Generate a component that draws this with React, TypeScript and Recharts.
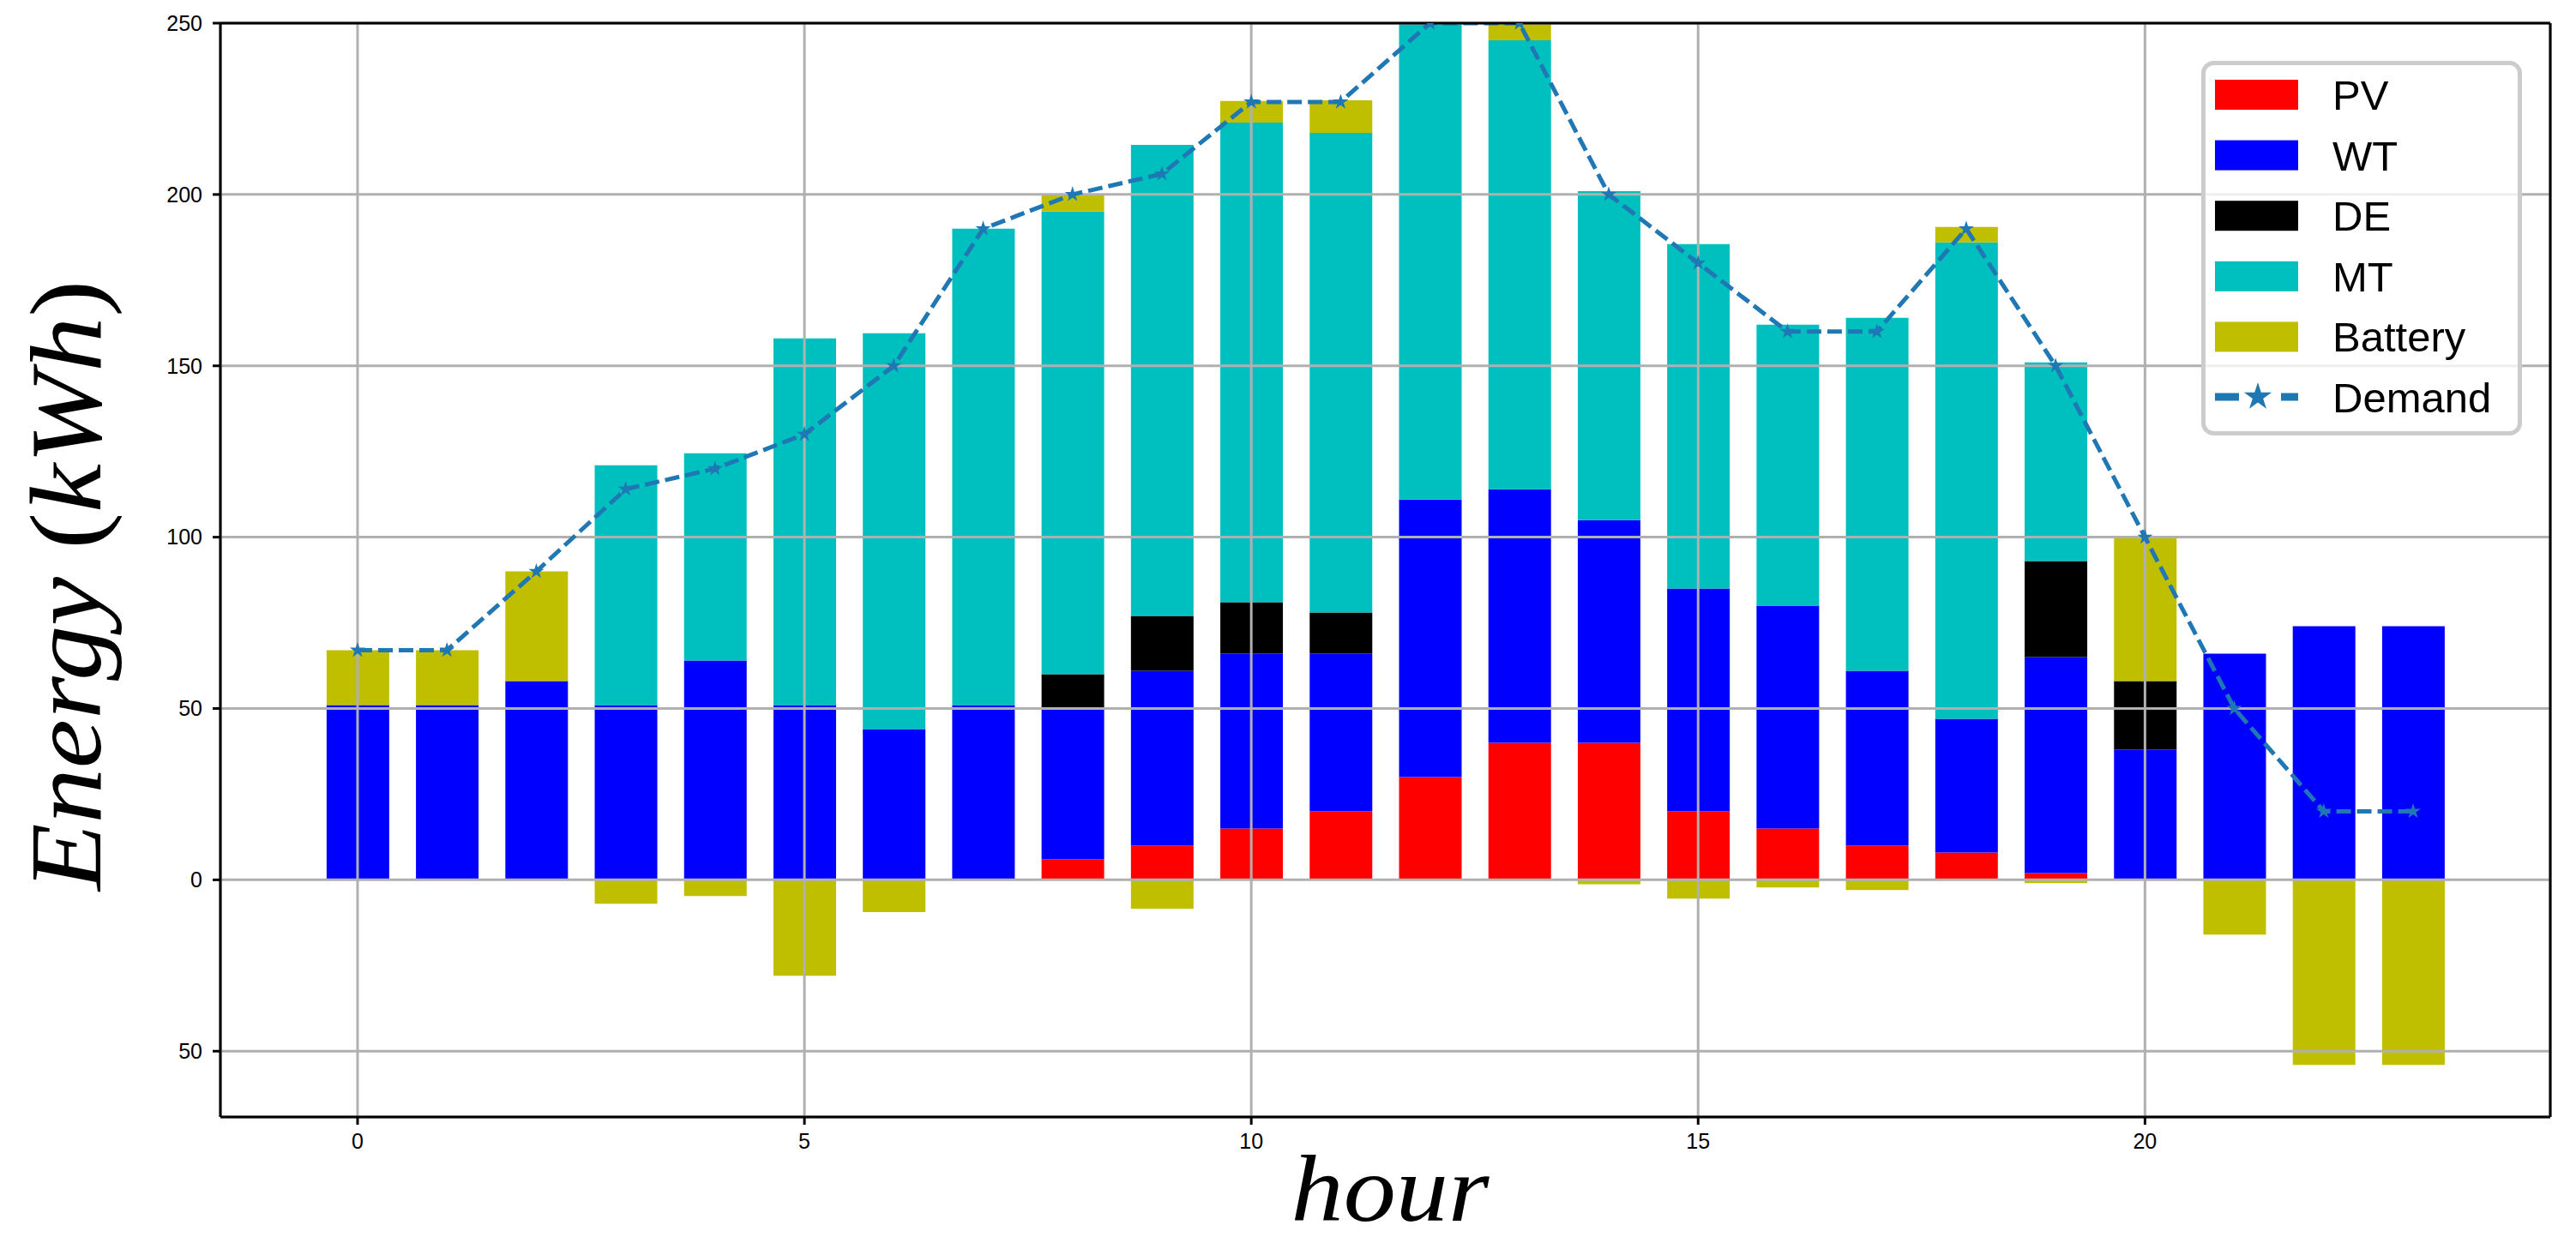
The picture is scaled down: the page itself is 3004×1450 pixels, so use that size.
import {
  ComposedChart,
  Bar,
  Line,
  XAxis,
  YAxis,
  CartesianGrid,
  Legend,
  ReferenceLine,
  Label,
} from 'recharts';

// hourly energy dispatch
const hours = [0, 1, 2, 3, 4, 5, 6, 7, 8, 9, 10, 11, 12, 13, 14, 15, 16, 17, 18, 19, 20, 21, 22, 23];
const pv = [0, 0, 0, 0, 0, 0, 0, 0, 6, 10, 15, 20, 30, 40, 40, 20, 15, 10, 8, 2, 0, 0, 0, 0];
const wt = [51, 51, 58, 51, 64, 51, 44, 51, 44, 51, 51, 46, 81, 74, 65, 65, 65, 51, 39, 63, 38, 66, 74, 74];
const de = [0, 0, 0, 0, 0, 0, 0, 0, 10, 16, 15, 12, 0, 0, 0, 0, 0, 0, 0, 28, 20, 0, 0, 0];
const mt = [0, 0, 0, 70, 60.5, 107, 115.5, 139, 135, 137.5, 140, 140, 139, 131, 96, 100.5, 82, 103, 139, 58, 0, 0, 0, 0];
const battery = [16, 16, 32, -7, -4.7, -28, -9.4, 0, 5, -8.4, 6.3, 9.5, 0, 5, -1.3, -5.5, -2.2, -3, 4.5, -1, 42, -16, -54, -54];
const demand = [67, 67, 90, 114, 120, 130, 150, 190, 200, 206, 227, 227, 250, 250, 200, 180, 160, 160, 190, 150, 100, 50, 20, 20];

const xTicks = [0, 5, 10, 15, 20];
const yTicks = [-50, 0, 50, 100, 150, 200, 250];

const legendItems = [
  { name: 'PV', color: '#ff0000' },
  { name: 'WT', color: '#0000ff' },
  { name: 'DE', color: '#000000' },
  { name: 'MT', color: '#00bfbf' },
  { name: 'Battery', color: '#bfbf00' },
];

const data = hours.map((h, i) => ({
  hour: h,
  PV: pv[i],
  WT: wt[i],
  DE: de[i],
  MT: mt[i],
  Battery: battery[i],
  Demand: demand[i],
}));

const LINE_COLOR = '#1f77b4';
const SANS = '"Liberation Sans", Arial, sans-serif';
const SERIF = '"Liberation Serif", "Times New Roman", serif';

function starPath(cx: number, cy: number, r: number) {
  let d = '';
  for (let i = 0; i < 10; i++) {
    const a = (-90 + i * 36) * (Math.PI / 180);
    const rr = i % 2 === 0 ? r : r * 0.382;
    d += (i === 0 ? 'M' : 'L') + (cx + rr * Math.cos(a)).toFixed(2) + ',' + (cy + rr * Math.sin(a)).toFixed(2);
  }
  return d + 'Z';
}

const StarDot = (props: any) => {
  const { cx, cy, index } = props;
  if (cx == null || cy == null) return <g key={`s-${index}`} />;
  return <path key={`s-${index}`} d={starPath(cx, cy, 9.5)} fill={LINE_COLOR} />;
};

function LegendBox() {
  const rowH = 70.6;
  return (
    <svg width={374} height={437} style={{ display: 'block' }}>
      <rect x={2.5} y={2.5} width={369} height={432} rx={12} fill="#fff" fillOpacity={0.8} stroke="#cccccc" strokeWidth={5} />
      {legendItems.map((it, i) => (
        <g key={it.name}>
          <rect x={16} y={22 + i * rowH} width={97} height={35} fill={it.color} />
          <text x={153} y={57 + i * rowH} fontSize={49} fontFamily={SANS} fill="#000">
            {it.name}
          </text>
        </g>
      ))}
      <line x1={16} y1={392} x2={44} y2={392} stroke={LINE_COLOR} strokeWidth={9} />
      <line x1={93} y1={392} x2={113} y2={392} stroke={LINE_COLOR} strokeWidth={9} />
      <path d={starPath(66, 392, 17)} fill={LINE_COLOR} />
      <text x={153} y={410} fontSize={49} fontFamily={SANS} fill="#000">
        Demand
      </text>
    </svg>
  );
}

function App() {
  return (
    <div style={{ position: 'absolute', left: 0, top: 0, width: 3004, height: 1450, background: '#fff' }}>
      <ComposedChart
        width={3004}
        height={1450}
        data={data}
        stackOffset='sign'
        margin={{ top: 27, right: 30, left: 0, bottom: 0 }}
      >
        <XAxis
          dataKey='hour'
          type='number'
          domain={[-1.535, 24.535]}
          allowDataOverflow
          ticks={xTicks}
          height={147}
          axisLine={{ stroke: '#000', strokeWidth: 3 }}
          tickLine={{ stroke: '#000', strokeWidth: 3 }}
          tickSize={9}
          tickMargin={10}
          tick={{ fill: '#000', fontSize: 25, fontFamily: SANS }}
        >
          <Label
            content={() => (
              <text
                x={1621}
                y={1424}
                textAnchor='middle'
                fontSize={110}
                fontFamily={SERIF}
                fontStyle='italic'
                textLength={231}
                lengthAdjust='spacingAndGlyphs'
                fill='#000'
              >
                hour
              </text>
            )}
          />
        </XAxis>
        <YAxis
          type='number'
          domain={[-69.2, 250]}
          allowDataOverflow
          ticks={yTicks}
          width={257}
          axisLine={{ stroke: '#000', strokeWidth: 3 }}
          tickLine={{ stroke: '#000', strokeWidth: 3 }}
          tickSize={9}
          tickMargin={12}
          tick={{ fill: '#000', fontSize: 25, fontFamily: SANS }}
          tickFormatter={(v: number) => String(Math.abs(v))}
        >
          <Label
            content={() => (
              <text
                x={117}
                y={683}
                transform='rotate(-90 117 683)'
                textAnchor='middle'
                fontSize={118}
                fontFamily={SERIF}
                textLength={712}
                lengthAdjust='spacingAndGlyphs'
                fill='#000'
              >
                <tspan fontStyle='italic'>Energy</tspan>
                <tspan> (</tspan>
                <tspan fontStyle='italic'>kWh</tspan>
                <tspan>)</tspan>
              </text>
            )}
          />
        </YAxis>
        <Bar dataKey='PV' stackId='a' fill='#ff0000' barSize={73} isAnimationActive={false} />
        <Bar dataKey='WT' stackId='a' fill='#0000ff' barSize={73} isAnimationActive={false} />
        <Bar dataKey='DE' stackId='a' fill='#000000' barSize={73} isAnimationActive={false} />
        <Bar dataKey='MT' stackId='a' fill='#00bfbf' barSize={73} isAnimationActive={false} />
        <Bar dataKey='Battery' stackId='a' fill='#bfbf00' barSize={73} isAnimationActive={false} />
        <CartesianGrid stroke='#b0b0b0' strokeWidth={3} zIndex={350} />
        <Line
          dataKey='Demand'
          type='linear'
          stroke={LINE_COLOR}
          strokeWidth={5}
          strokeDasharray='17 7'
          dot={StarDot}
          activeDot={false}
          isAnimationActive={false}
        />
        <ReferenceLine y={250} stroke='#000' strokeWidth={3} zIndex={600} />
        <ReferenceLine x={24.535} stroke='#000' strokeWidth={3} zIndex={600} />
        <Legend
          layout='vertical'
          align='center'
          verticalAlign='middle'
          wrapperStyle={{ position: 'absolute', left: 2567, top: 71, width: 374, height: 437 }}
          content={() => <LegendBox />}
        />
      </ComposedChart>
    </div>
  );
}

export default App;
